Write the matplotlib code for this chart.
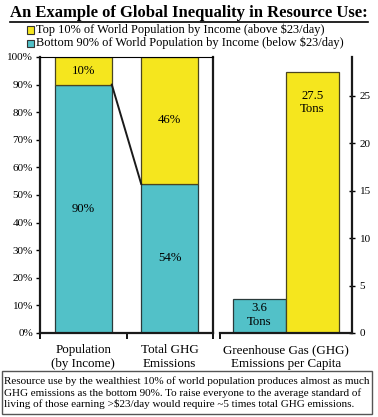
import matplotlib
matplotlib.use("Agg")
import matplotlib.pyplot as plt
from matplotlib.patches import Rectangle

plt.rcParams['font.family'] = ['Liberation Serif', 'DejaVu Serif']

# Data
share_categories = ["Population\n(by Income)", "Total GHG\nEmissions"]
bottom90_share = [90, 54]
top10_share = [10, 46]
percap_categories = ["Bottom 90%", "Top 10%"]
percap_tons = [3.6, 27.5]
legend_labels = ["Top 10% of World Population by Income (above $23/day)",
                 "Bottom 90% of World Population by Income (below $23/day)"]
title = "An Example of Global Inequality in Resource Use:"
footer = ("Resource use by the wealthiest 10% of world population produces almost as much\n"
          "GHG emissions as the bottom 90%. To raise everyone to the average standard of\n"
          "living of those earning >$23/day would require ~5 times total GHG emissions.")

YELLOW = "#F5E61E"
TEAL = "#52C1C8"
DARK = "#1a1a1a"

fig = plt.figure(figsize=(3.78, 4.17), dpi=100)
renderer = fig.canvas.get_renderer()

def fit_width(txt, target_px):
    w = txt.get_window_extent(renderer=renderer).width
    txt.set_fontsize(txt.get_fontsize() * target_px / w)

# Left stacked axes
ax1 = fig.add_axes([40/378, 1-333/417, 173/378, 276/417])
x = [0, 1]
w = 0.66
ax1.bar(x, bottom90_share, width=w, color=TEAL, edgecolor="#2a3a3a", linewidth=0.9)
ax1.bar(x, top10_share, width=w, bottom=bottom90_share, color=YELLOW, edgecolor="#4a4520", linewidth=0.9)
ax1.plot([x[0]+w/2, x[1]-w/2], [bottom90_share[0], bottom90_share[1]], color=DARK, lw=1.4)
for i in range(2):
    ax1.text(x[i], bottom90_share[i]/2, f"{bottom90_share[i]}%", ha="center", va="center", fontsize=9.2)
    ax1.text(x[i], bottom90_share[i] + top10_share[i]/2, f"{top10_share[i]}%", ha="center", va="center", fontsize=9.2)
ax1.set_xlim(-0.5, 1.5)
ax1.set_ylim(0, 100)
ax1.set_yticks(range(0, 101, 10))
ax1.set_yticklabels([f"{v}%" for v in range(0, 101, 10)], fontsize=8)
ax1.set_xticks([-0.5, 0.5, 1.5])
ax1.set_xticklabels([])
ax1.tick_params(axis='y', direction='out', length=3, width=1, pad=2)
ax1.tick_params(axis='x', direction='out', length=4, width=1.3)
for s in ['left', 'right', 'bottom']:
    ax1.spines[s].set_linewidth(1.6)
    ax1.spines[s].set_color(DARK)
ax1.spines['top'].set_linewidth(0.8)
for i, lab in enumerate(share_categories):
    ax1.text(x[i], -0.04, lab, transform=ax1.get_xaxis_transform(), ha="center", va="top",
             fontsize=9.4, linespacing=1.25)

# Right per-capita axes
ax2 = fig.add_axes([220/378, 1-333/417, 132/378, 276/417])
cols = [TEAL, YELLOW]
edges = ["#2a3a3a", "#4a4520"]
ax2.bar([0, 1], percap_tons, width=1.0, color=cols, edgecolor=edges, linewidth=0.9)
ax2.text(0, 1.9, f"{percap_tons[0]}\nTons", ha="center", va="center", fontsize=9.2, linespacing=1.2)
ax2.text(1, 24.3, f"{percap_tons[1]}\nTons", ha="center", va="center", fontsize=9.2, linespacing=1.2)
ax2.set_xlim(-0.745, 1.745)
ax2.set_ylim(0, 29.1)
ax2.yaxis.tick_right()
ax2.set_yticks(range(0, 26, 5))
ax2.set_yticklabels([str(v) for v in range(0, 26, 5)], fontsize=8)
ax2.tick_params(axis='y', direction='inout', length=5, width=1, pad=3)
ax2.set_xticks([-0.745])
ax2.set_xticklabels([])
ax2.tick_params(axis='x', direction='out', length=4, width=1.3)
ax2.spines['left'].set_visible(False)
ax2.spines['top'].set_visible(False)
for s in ['right', 'bottom']:
    ax2.spines[s].set_linewidth(1.6)
    ax2.spines[s].set_color(DARK)
ax2.text(0.5, -0.04, "Greenhouse Gas (GHG)\nEmissions per Capita", transform=ax2.get_xaxis_transform(),
         ha="center", va="top", fontsize=9.4, linespacing=1.25)

# Title
t = fig.text(189/378, 1-13/417, title, ha="center", va="center", fontsize=12, fontweight="bold")
fit_width(t, 358)
bb = t.get_window_extent(renderer=renderer)
fig.add_artist(plt.Line2D([bb.x0/378, bb.x1/378], [(417-22)/417]*2, color="black", lw=1.2))

# Legend
for j, (lab, c) in enumerate(zip(legend_labels, [YELLOW, TEAL])):
    yc = 1 - (30 + 13*j)/417
    fig.add_artist(Rectangle((27/378, yc - 3.5/417), 7/378, 7/417, facecolor=c, edgecolor="#333333",
                             linewidth=0.8, transform=fig.transFigure))
    fig.text(36/378, yc, lab, ha="left", va="center", fontsize=8.95)

# Footer box
fig.add_artist(Rectangle((2/378, 3/417), 370/378, 43/417, facecolor="white", edgecolor="#555555",
                         linewidth=1.0, transform=fig.transFigure))
ft = fig.text(4/378, 1-393/417, footer, ha="left", va="center", fontsize=8, linespacing=1.2)
fit_width(ft, 366)

fig.savefig("out.png", dpi=100)
